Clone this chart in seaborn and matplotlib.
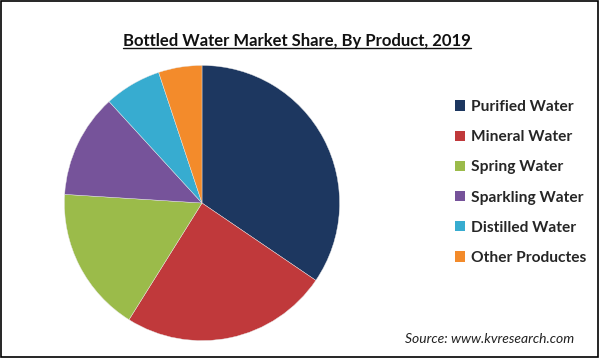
import matplotlib
matplotlib.use('Agg')
import matplotlib.pyplot as plt
import seaborn as sns
from matplotlib.patches import Rectangle, Patch
from matplotlib.lines import Line2D

# данные (доли в %)
products = ['Purified Water', 'Mineral Water', 'Spring Water',
            'Sparkling Water', 'Distilled Water', 'Other Productes']
shares = [34.5, 24.4, 17.1, 12.2, 6.7, 5.1]
colors = ['#1d3760', '#c0393b', '#9bbb4a', '#76539a', '#37acd0', '#f38b2b']

sns.set_theme(style='white')
plt.rcParams['font.family'] = ['Lato', 'DejaVu Sans']

fig = plt.figure(figsize=(6.01, 3.61), dpi=100)
fig.patch.set_facecolor('white')

# рамка вокруг всей картинки
fig.patches.append(Rectangle((1 / 601, 4 / 361), 597 / 601, 356 / 361,
                             transform=fig.transFigure, fill=False,
                             edgecolor='black', linewidth=1.2))

ax = fig.add_axes([0.1048, 0.0526, 0.4626, 0.770])
wedges, _ = ax.pie(shares, colors=colors, startangle=90, counterclock=False,
                   radius=1, wedgeprops=dict(edgecolor='#e8e8e8', linewidth=0.3))
ax.set_xlim(-1.01, 1.01)
ax.set_ylim(-1.01, 1.01)
ax.set_aspect('equal')
ax.axis('off')

title = fig.text(297 / 601, 1 - 41 / 361, 'Bottled Water Market Share, By Product, 2019',
                 ha='center', va='center', fontsize=12, fontweight='bold', color='#111111')

handles = [Patch(facecolor=c, edgecolor='none') for c in colors]
fig.legend(handles, products, loc='upper left', bbox_to_anchor=(455 / 601, 1 - 100 / 361),
           frameon=False, handlelength=0.65, handleheight=0.65, handletextpad=0.35,
           labelspacing=1.04, borderpad=0, borderaxespad=0,
           prop=dict(family='Lato', weight='bold', size=11.2))

fig.text(574 / 601, 1 - 339 / 361, 'Source: www.kvresearch.com', ha='right', va='center',
         fontsize=10, fontstyle='italic', color='#222222')

# подчёркивание заголовка
fig.canvas.draw()
bb = title.get_window_extent().transformed(fig.transFigure.inverted())
y_line = 1 - 48 / 361
fig.lines.append(Line2D([bb.x0, bb.x1], [y_line, y_line], transform=fig.transFigure,
                        color='#111111', linewidth=1))

fig.savefig('out.png', dpi=100, facecolor='white')
